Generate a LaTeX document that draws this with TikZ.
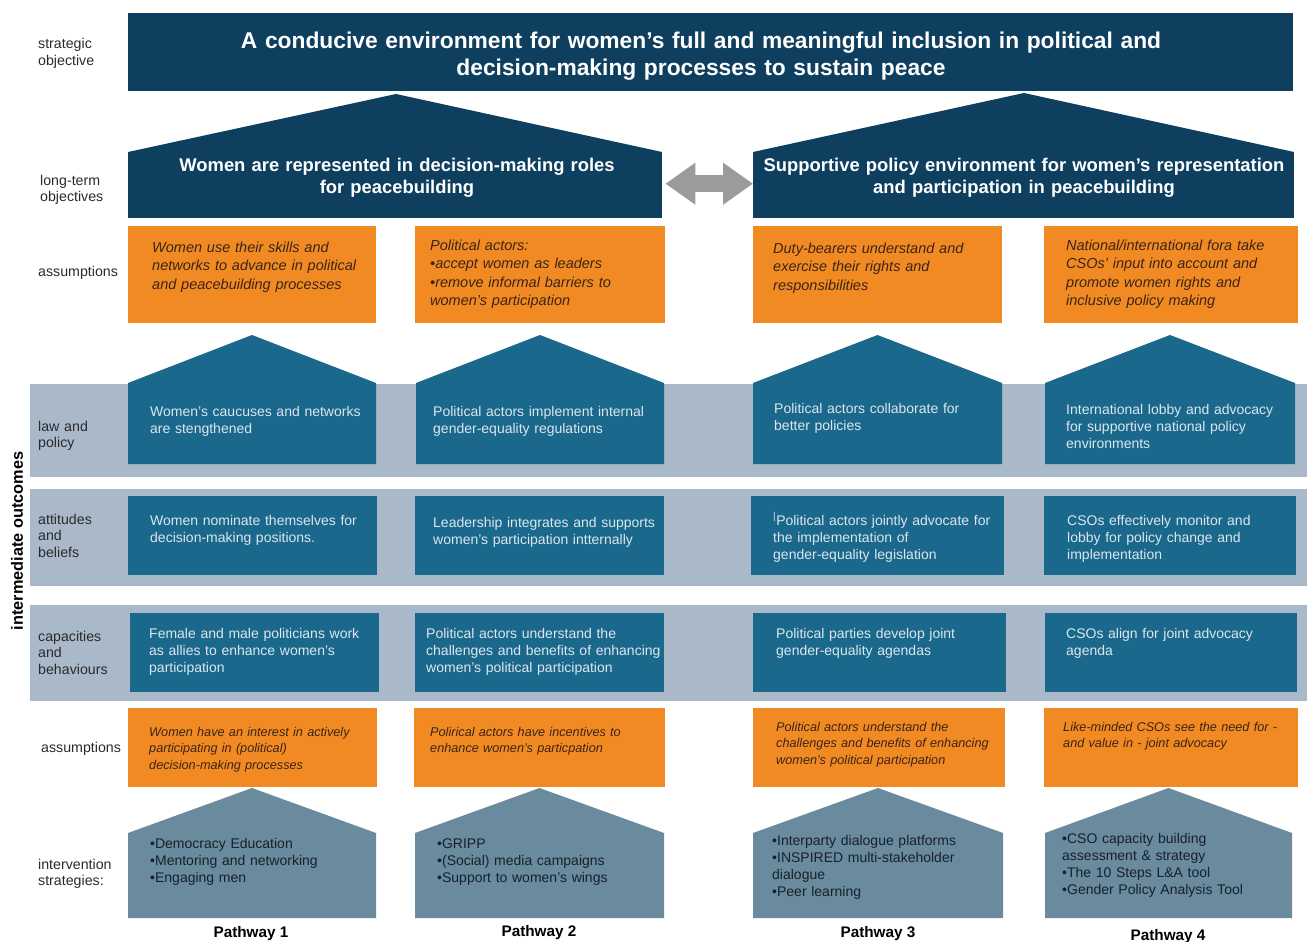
\documentclass[tikz,border=0pt]{standalone}
\usepackage{fontspec}
\setmainfont{Liberation Sans}
\usetikzlibrary{arrows.meta}

\definecolor{navy}{HTML}{0E3F5F}
\definecolor{outblue}{HTML}{1A688C}
\definecolor{orng}{HTML}{F28A24}
\definecolor{bandgray}{HTML}{AAB9CA}
\definecolor{stratblue}{HTML}{6A8A9E}
\definecolor{arrowgray}{HTML}{9B9B9B}
\definecolor{labeltext}{HTML}{2A2A2A}
\definecolor{outtext}{HTML}{DCE6EE}
\definecolor{asstext}{HTML}{3A2416}
\definecolor{strattext}{HTML}{16212B}

% house-shaped box: left x, right x, apex y, shoulder y, bottom y, fill style
\newcommand\housefill[6]{%
  \fill[#6] (#1,#5) -- (#1,#4) -- ({(#1+#2)/2},#3) -- (#2,#4) -- (#2,#5) -- cycle;}

\tikzset{
  rowlabel/.style={anchor=base west, inner sep=0, text width=90pt, align=left,
    text=labeltext, font=\fontsize{14.2}{16.5}\selectfont},
  outtxt/.style={anchor=base west, inner sep=0, text width=240pt, align=left,
    text=outtext, font=\fontsize{14}{17}\selectfont},
  asstxt/.style={anchor=base west, inner sep=0, text width=250pt, align=left,
    text=asstext, font=\fontsize{14.5}{18.5}\selectfont\itshape},
  asstxtb/.style={asstxt, font=\fontsize{12.7}{16.5}\selectfont\itshape},
  strattxt/.style={anchor=base west, inner sep=0, text width=240pt, align=left,
    text=strattext, font=\fontsize{14}{17}\selectfont},
  headtxt/.style={anchor=base, inner sep=0, text width=1100pt, align=center,
    text=white, font=\fontsize{22.8}{27}\selectfont\bfseries},
  ltotxt/.style={anchor=base, inner sep=0, text width=560pt, align=center,
    text=white, font=\fontsize{18.4}{22}\selectfont\bfseries},
  pathtxt/.style={anchor=base, inner sep=0, text=black,
    font=\fontsize{15.3}{18}\selectfont\bfseries},
  ltobody/.style={fill=navy, inner sep=0, anchor=north west, minimum height=66pt}
}

\begin{document}
\begin{tikzpicture}[x=1pt,y=-1pt]
\useasboundingbox (0,0) rectangle (1307,942);

% background bands of the intermediate outcomes
\fill[bandgray] (30,384) rectangle (1307,477);
\fill[bandgray] (30,489) rectangle (1307,586);
\fill[bandgray] (30,605) rectangle (1307,701);

% strategic objective banner
\fill[navy] (128,13) rectangle (1293,91);
\node[headtxt] (so) at (701,49) {A conducive environment for women’s full and meaningful inclusion in political and\\ decision-making processes to sustain peace};

% long-term objectives
\fill[navy] (128,152) -- (396,94) -- (662,152) -- cycle;
\node[ltobody, minimum width=534pt] (lto1) at (128,152) {};
\fill[navy] (753,152) -- (1024,93) -- (1294,152) -- cycle;
\node[ltobody, minimum width=541pt] (lto2) at (753,152) {};
\node[ltotxt] (lto1t) at (397,171) {Women are represented in decision-making roles\\ for peacebuilding};
\node[ltotxt] (lto2t) at (1024,171) {Supportive policy environment for women’s representation\\ and participation in peacebuilding};
\draw[arrowgray, line width=17pt,
  {Triangle[width=40pt,length=30pt]}-{Triangle[width=40pt,length=30pt]}]
  ([xshift=3pt,yshift=1.5pt]lto1.east) -- ([yshift=1.5pt]lto2.west);

% assumptions under the long-term objectives
\fill[orng] (128,226) rectangle (376,323);
\fill[orng] (415,226) rectangle (665,323);
\fill[orng] (753,226) rectangle (1002,323);
\fill[orng] (1044,226) rectangle (1298,323);
\node[asstxt] (a1) at (152,252) {Women use their skills and\\ networks to advance in political\\ and peacebuilding processes};
\node[asstxt] (a2) at (430,250) {Political actors:\\ •accept women as leaders\\ •remove informal barriers to\\ women’s participation};
\node[asstxt] (a3) at (773,253) {Duty-bearers understand and\\ exercise their rights and\\ responsibilities};
\node[asstxt] (a4) at (1066,250) {National/international fora take\\ CSOs’ input into account and\\ promote women rights and\\ inclusive policy making};

% law and policy outcomes
\housefill{128}{376}{335}{383}{464}{outblue}
\housefill{416}{664}{335}{383}{464}{outblue}
\housefill{753}{1002}{335}{383}{464}{outblue}
\housefill{1045}{1295}{335}{383}{464}{outblue}
\node[outtxt] (l1) at (150,416) {Women’s caucuses and networks\\ are stengthened};
\node[outtxt] (l2) at (433,416) {Political actors implement internal\\ gender-equality regulations};
\node[outtxt] (l3) at (774,413) {Political actors collaborate for\\ better policies};
\node[outtxt] (l4) at (1066,414) {International lobby and advocacy\\ for supportive national policy\\ environments};

% attitudes and beliefs outcomes
\fill[outblue] (128,496) rectangle (377,575);
\fill[outblue] (415,496) rectangle (664,575);
\fill[outblue] (751,496) rectangle (1004,575);
\fill[outblue] (1044,496) rectangle (1296,575);
\node[outtxt] (b1) at (150,525) {Women nominate themselves for\\ decision-making positions.};
\node[outtxt] (b2) at (433,527) {Leadership integrates and supports\\ women’s participation intternally};
\node[outtxt] (b3) at (773,525) {\textsuperscript{|}Political actors jointly advocate for\\ the implementation of\\ gender-equality legislation};
\node[outtxt] (b4) at (1067,525) {CSOs effectively monitor and\\ lobby for policy change and\\ implementation};

% capacities and behaviours outcomes
\fill[outblue] (130,613) rectangle (379,692);
\fill[outblue] (415,613) rectangle (664,692);
\fill[outblue] (753,613) rectangle (1006,692);
\fill[outblue] (1045,613) rectangle (1297,692);
\node[outtxt] (c1) at (149,638) {Female and male politicians work\\ as allies to enhance women’s\\ participation};
\node[outtxt] (c2) at (426,638) {Political actors understand the\\ challenges and benefits of enhancing\\ women’s political participation};
\node[outtxt] (c3) at (776,638) {Political parties develop joint\\ gender-equality agendas};
\node[outtxt] (c4) at (1066,638) {CSOs align for joint advocacy\\ agenda};

% assumptions under the strategies
\fill[orng] (128,708) rectangle (377,787);
\fill[orng] (414,708) rectangle (665,787);
\fill[orng] (753,708) rectangle (1005,787);
\fill[orng] (1044,708) rectangle (1298,787);
\node[asstxtb] (d1) at (149,736) {Women have an interest in actively\\ participating in (political)\\ decision-making processes};
\node[asstxtb] (d2) at (430,736) {Polirical actors have incentives to\\ enhance women’s particpation};
\node[asstxtb] (d3) at (776,731) {Political actors understand the\\ challenges and benefits of enhancing\\ women’s political participation};
\node[asstxtb] (d4) at (1063,731) {Like-minded CSOs see the need for -\\ and value in - joint advocacy};

% intervention strategies
\housefill{128}{376}{788}{833}{918}{stratblue}
\housefill{415}{664}{788}{833}{918}{stratblue}
\housefill{753}{1003}{788}{833}{918}{stratblue}
\housefill{1045}{1292}{788}{833}{918}{stratblue}
\node[strattxt] (s1) at (150,848) {•Democracy Education\\ •Mentoring and networking\\ •Engaging men};
\node[strattxt] (s2) at (437,848) {•GRIPP\\ •(Social) media campaigns\\ •Support to women’s wings};
\node[strattxt] (s3) at (772,845) {•Interparty dialogue platforms\\ •INSPIRED multi-stakeholder\\ dialogue\\ •Peer learning};
\node[strattxt] (s4) at (1062,843) {•CSO capacity building\\ assessment \& strategy\\ •The 10 Steps L\&A tool\\ •Gender Policy Analysis Tool};

% pathway captions
\node[pathtxt] (p1) at (251,937) {Pathway 1};
\node[pathtxt] (p2) at (539,936) {Pathway 2};
\node[pathtxt] (p3) at (878,937) {Pathway 3};
\node[pathtxt] (p4) at (1168,940) {Pathway 4};

% row labels
\node[rowlabel] (r1) at (38,49) {strategic\\ objective};
\node[rowlabel] (r2) at (40,185) {long-term\\ objectives};
\node[rowlabel] (r3) at (38,276) {assumptions};
\node[rowlabel] (r4) at (38,431) {law and\\ policy};
\node[rowlabel] (r5) at (38,524) {attitudes\\ and\\ beliefs};
\node[rowlabel] (r6) at (38,641) {capacities\\ and\\ behaviours};
\node[rowlabel] (r7) at (41,752) {assumptions};
\node[rowlabel] (r8) at (38,869) {intervention\\ strategies:};
\node[rotate=90, inner sep=0, text=black, font=\fontsize{16.3}{18}\selectfont\bfseries] (io) at (17,541) {intermediate outcomes};
\end{tikzpicture}
\end{document}
